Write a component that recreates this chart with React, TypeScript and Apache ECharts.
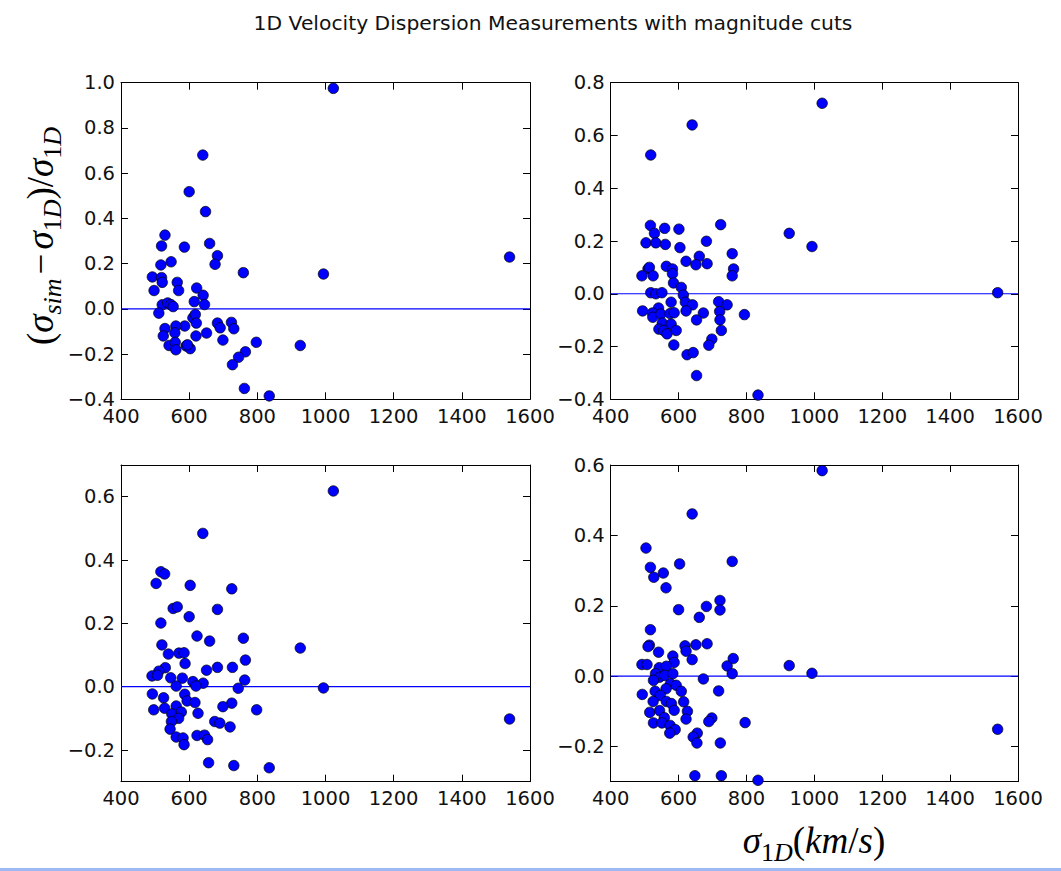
import React, { useEffect, useRef } from 'react';
import * as echarts from 'echarts';

const titleText = '1D Velocity Dispersion Measurements with magnitude cuts';

// tick positions shared by the four panels
const xTicks = [400, 600, 800, 1000, 1200, 1400, 1600];
const yTicksTL = [-0.4, -0.2, 0, 0.2, 0.4, 0.6, 0.8, 1.0];
const yTicksTR = [-0.4, -0.2, 0, 0.2, 0.4, 0.6, 0.8];
const yTicksBL = [-0.2, 0, 0.2, 0.4, 0.6];
const yTicksBR = [-0.2, 0, 0.2, 0.4, 0.6];

const xRange = [400, 1600];
const yRangeTL = [-0.4, 1.0];
const yRangeTR = [-0.4, 0.8];
const yRangeBL = [-0.3, 0.7];
const yRangeBR = [-0.3, 0.6];

// [sigma_1D, (sigma_sim - sigma_1D)/sigma_1D]
const cutTopLeft: [number, number][] = [
    [640, 0.68], [600, 0.518], [648, 0.43], [529, 0.326], [519, 0.278], [586, 0.273], [660, 0.289],
    [683, 0.235], [676, 0.197], [517, 0.194], [547, 0.208], [759, 0.16], [492, 0.141], [519, 0.138],
    [521, 0.117], [565, 0.117], [497, 0.081], [569, 0.081], [622, 0.092], [641, 0.06], [615, 0.032],
    [645, 0.019], [521, 0.018], [537, 0.026], [546, 0.019], [553, 0.01], [511, -0.019], [611, -0.04],
    [618, -0.025], [621, -0.063], [683, -0.063], [691, -0.084], [724, -0.06], [731, -0.088], [529, -0.087],
    [587, -0.076], [561, -0.076], [524, -0.12], [558, -0.106], [620, -0.12], [651, -0.107], [699, -0.138],
    [541, -0.162], [559, -0.148], [561, -0.181], [591, -0.164], [603, -0.176], [595, -0.159], [797, -0.148],
    [765, -0.19], [745, -0.214], [727, -0.247], [926, -0.162], [762, -0.352], [835, -0.385], [1023, 0.975],
    [994, 0.154], [1540, 0.229],
];

const cutTopRight: [number, number][] = [
    [518, 0.526], [517, 0.259], [529, 0.229], [559, 0.248], [601, 0.245], [724, 0.262], [926, 0.229],
    [504, 0.193], [533, 0.193], [561, 0.187], [604, 0.175], [682, 0.199], [622, 0.123], [661, 0.142],
    [651, 0.11], [684, 0.114], [758, 0.152], [762, 0.094], [758, 0.068], [510, 0.094], [514, 0.1],
    [492, 0.068], [525, 0.068], [564, 0.104], [582, 0.094], [582, 0.076], [585, 0.041], [608, 0.024],
    [518, 0.004], [533, 0], [551, 0.004], [614, -0.005], [578, -0.032], [620, -0.032], [641, -0.042],
    [718, -0.03], [743, -0.042], [721, -0.067], [494, -0.065], [541, -0.054], [523, -0.073], [524, -0.089],
    [548, -0.077], [575, -0.075], [587, -0.072], [622, -0.065], [673, -0.073], [653, -0.099], [722, -0.099],
    [794, -0.079], [552, -0.111], [578, -0.115], [542, -0.134], [556, -0.139], [566, -0.152], [593, -0.139],
    [726, -0.139], [698, -0.172], [689, -0.195], [586, -0.194], [625, -0.231], [643, -0.223], [653, -0.31],
    [834, -0.384], [640, 0.64], [1023, 0.722], [993, 0.179], [1540, 0.004],
];

const cutBottomLeft: [number, number][] = [
    [640, 0.484], [517, 0.363], [528, 0.356], [503, 0.326], [603, 0.32], [725, 0.309], [553, 0.247],
    [565, 0.252], [683, 0.244], [600, 0.221], [517, 0.201], [623, 0.16], [660, 0.144], [759, 0.153],
    [926, 0.122], [520, 0.132], [539, 0.103], [570, 0.106], [585, 0.107], [588, 0.073], [765, 0.084],
    [530, 0.06], [511, 0.049], [491, 0.034], [507, 0.036], [546, 0.028], [580, 0.027], [651, 0.052],
    [683, 0.061], [727, 0.061], [763, 0.021], [611, 0.016], [641, 0.011], [562, 0.002], [620, 0.002],
    [744, -0.005], [492, -0.023], [525, -0.035], [587, -0.024], [594, -0.045], [617, -0.05], [725, -0.052],
    [699, -0.063], [496, -0.073], [528, -0.068], [562, -0.061], [549, -0.086], [577, -0.08], [569, -0.1],
    [626, -0.084], [798, -0.073], [548, -0.11], [675, -0.11], [690, -0.115], [720, -0.127], [544, -0.134],
    [562, -0.159], [582, -0.162], [585, -0.183], [623, -0.154], [645, -0.153], [654, -0.167], [657, -0.24],
    [731, -0.249], [835, -0.256], [1023, 0.618], [994, -0.004], [1540, -0.102],
];

const cutBottomRight: [number, number][] = [
    [640, 0.461], [504, 0.364], [758, 0.326], [517, 0.309], [603, 0.319], [555, 0.293], [527, 0.281],
    [563, 0.251], [722, 0.215], [722, 0.188], [682, 0.198], [600, 0.189], [661, 0.167], [517, 0.132],
    [514, 0.088], [510, 0.084], [541, 0.068], [619, 0.086], [622, 0.071], [651, 0.089], [684, 0.092],
    [640, 0.047], [583, 0.057], [587, 0.039], [492, 0.033], [507, 0.033], [543, 0.024], [564, 0.028],
    [532, 0.007], [544, -0.003], [559, 0.002], [583, 0.007], [743, 0.029], [761, 0.05], [758, 0.007],
    [926, 0.03], [673, -0.008], [526, -0.012], [576, -0.022], [593, -0.026], [493, -0.052], [531, -0.043],
    [563, -0.036], [608, -0.043], [718, -0.042], [546, -0.055], [525, -0.072], [564, -0.072], [579, -0.078],
    [615, -0.073], [587, -0.097], [515, -0.103], [544, -0.098], [626, -0.1], [622, -0.122], [558, -0.118],
    [526, -0.133], [551, -0.133], [575, -0.14], [590, -0.152], [574, -0.162], [698, -0.119], [689, -0.129],
    [796, -0.132], [655, -0.162], [643, -0.173], [654, -0.19], [723, -0.19], [648, -0.283], [726, -0.283],
    [834, -0.296], [1023, 0.584], [993, 0.008], [1540, -0.151],
];

const panels = [
    { rect: { left: 121, top: 82.7, width: 409, height: 316.6 }, yTicks: yTicksTL, yRange: yRangeTL, data: cutTopLeft },
    { rect: { left: 610.7, top: 82.7, width: 407.3, height: 316.6 }, yTicks: yTicksTR, yRange: yRangeTR, data: cutTopRight },
    { rect: { left: 121, top: 465, width: 409, height: 316.7 }, yTicks: yTicksBL, yRange: yRangeBL, data: cutBottomLeft },
    { rect: { left: 610.7, top: 465, width: 407.3, height: 316.7 }, yTicks: yTicksBR, yRange: yRangeBR, data: cutBottomRight },
];

const tickFont = { fontFamily: 'DejaVu Sans', fontSize: 19.5, color: '#111' };
const frameLine = { show: true, onZero: false, lineStyle: { color: '#000', width: 1 } };
const tickLine = { show: true, inside: true, length: 7, lineStyle: { color: '#000', width: 1 } };

const fmtX = (v: number) => String(v);
const fmtY = (v: number) => {
    if (Math.abs(v) < 1e-9) return '0.0';
    return (v < 0 ? '\u2212' : '') + Math.abs(v).toFixed(1);
};

const mathRich = {
    it: { fontFamily: 'Liberation Serif', fontStyle: 'italic', fontSize: 37, fill: '#000' },
    up: { fontFamily: 'Liberation Serif', fontSize: 37, fill: '#000' },
    op: { fontFamily: 'Liberation Serif', fontSize: 37, fill: '#000', padding: [0, 4, 0, 4] },
    sit: { fontFamily: 'Liberation Serif', fontStyle: 'italic', fontSize: 26, fill: '#000', padding: [24, 0, 0, 0] },
    sup: { fontFamily: 'Liberation Serif', fontSize: 26, fill: '#000', padding: [24, 0, 0, 0] },
};

export default function App() {
    const chartRef = useRef<HTMLDivElement>(null);

    useEffect(() => {
        if (!chartRef.current) return;
        const chart = echarts.init(chartRef.current, null, { renderer: 'svg' });

        const grid: any[] = [];
        const xAxis: any[] = [];
        const yAxis: any[] = [];
        const series: any[] = [];

        panels.forEach((p, i) => {
            grid.push({ ...p.rect, containLabel: false, outerBoundsMode: 'none' });
            // bottom + top x axes (top one only for the frame and inner ticks)
            xAxis.push({
                type: 'value', gridIndex: i, position: 'bottom', min: xRange[0], max: xRange[1],
                axisLine: frameLine,
                axisTick: { ...tickLine, customValues: xTicks },
                axisLabel: { ...tickFont, margin: 7, customValues: xTicks, formatter: fmtX },
                splitLine: { show: false },
            });
            xAxis.push({
                type: 'value', gridIndex: i, position: 'top', min: xRange[0], max: xRange[1],
                axisLine: frameLine,
                axisTick: { ...tickLine, customValues: xTicks },
                axisLabel: { show: false },
                splitLine: { show: false },
            });
            yAxis.push({
                type: 'value', gridIndex: i, position: 'left', min: p.yRange[0], max: p.yRange[1],
                axisLine: frameLine,
                axisTick: { ...tickLine, customValues: p.yTicks },
                axisLabel: { ...tickFont, margin: 6, customValues: p.yTicks, formatter: fmtY },
                splitLine: { show: false },
            });
            yAxis.push({
                type: 'value', gridIndex: i, position: 'right', min: p.yRange[0], max: p.yRange[1],
                axisLine: frameLine,
                axisTick: { ...tickLine, customValues: p.yTicks },
                axisLabel: { show: false },
                splitLine: { show: false },
            });
            // zero reference line
            series.push({
                type: 'line', xAxisIndex: 2 * i, yAxisIndex: 2 * i, z: 1, silent: true,
                data: [[xRange[0], 0], [xRange[1], 0]],
                showSymbol: false, symbol: 'none',
                lineStyle: { color: '#0000ff', width: 1.2 },
            });
            series.push({
                type: 'scatter', xAxisIndex: 2 * i, yAxisIndex: 2 * i, z: 2,
                data: p.data, symbolSize: 10.5,
                itemStyle: { color: '#0000ff', borderColor: '#000', borderWidth: 0.7, opacity: 1 },
            });
        });

        const option = {
            animation: false,
            backgroundColor: '#fff',
            title: {
                text: titleText, left: 548, top: 8, textAlign: 'center',
                textStyle: { fontFamily: 'DejaVu Sans', fontSize: 20.3, fontWeight: 'normal', color: '#111' },
            },
            grid, xAxis, yAxis, series,
            graphic: [
                {
                    type: 'text', x: 40, y: 236, rotation: Math.PI / 2,
                    style: {
                        text: '{up|(}{it|σ}{sit|sim}{op|−}{it|σ}{sup|1}{sit|D}{up|)/}{it|σ}{sup|1}{sit|D}',
                        rich: mathRich, textAlign: 'center', textVerticalAlign: 'middle',
                    },
                },
                {
                    type: 'text', x: 814, y: 840,
                    style: {
                        text: '{it|σ}{sup|1}{sit|D}{up|(}{it|km}{up|/}{it|s}{up|)}',
                        rich: mathRich, textAlign: 'center', textVerticalAlign: 'middle',
                    },
                },
                {
                    type: 'rect', shape: { x: 0, y: 868, width: 1061, height: 3 },
                    style: { fill: '#9fb9f3' },
                },
            ],
        };

        chart.setOption(option);
        return () => chart.dispose();
    }, []);

    return <div ref={chartRef} style={{ position: 'fixed', left: 0, top: 0, width: 1061, height: 871 }} />;
}
